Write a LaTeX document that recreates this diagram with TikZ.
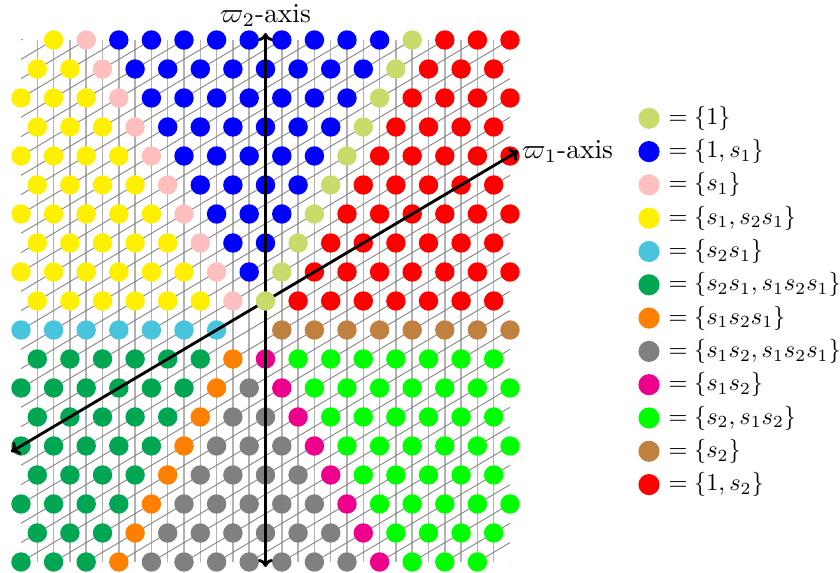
\documentclass[tikz,border=0pt]{standalone}
\usepackage{graphicx}
\usetikzlibrary{arrows.meta}
\definecolor{cOne}{RGB}{201,219,106}
\definecolor{cBlue}{RGB}{0,0,255}
\definecolor{cPink}{RGB}{255,191,191}
\definecolor{cYellow}{RGB}{255,239,0}
\definecolor{cCyan}{RGB}{72,196,220}
\definecolor{cDkGreen}{RGB}{0,166,81}
\definecolor{cOrange}{RGB}{255,128,0}
\definecolor{cGray}{RGB}{128,128,128}
\definecolor{cMagenta}{RGB}{236,0,140}
\definecolor{cGreen}{RGB}{0,255,0}
\definecolor{cBrown}{RGB}{191,128,64}
\definecolor{cRed}{RGB}{255,0,0}
\newcommand\pickcol[2]{%
  \def\col{}%
  \ifnum#2>-1
    \ifnum#1=#2 \def\col{cOne}\else
    \ifnum#1>#2 \def\col{cRed}\else
    \ifnum#1=\numexpr0-(#2)-2\relax \def\col{cPink}\else
    \ifnum#1<\numexpr0-(#2)-2\relax \def\col{cYellow}\else
    \def\col{cBlue}\fi\fi\fi\fi
  \else\ifnum#2=-1
    \ifnum#1<-1 \def\col{cCyan}\else\ifnum#1>-1 \def\col{cBrown}\fi\fi
  \else
    \ifnum#1=#2 \def\col{cOrange}\else
    \ifnum#1<#2 \def\col{cDkGreen}\else
    \ifnum#1=\numexpr0-(#2)-2\relax \def\col{cMagenta}\else
    \ifnum#1>\numexpr0-(#2)-2\relax \def\col{cGreen}\else
    \def\col{cGray}\fi\fi\fi\fi
  \fi\fi
  \ifnum#2=9 \ifnum#1=-15 \def\col{}\fi\fi
  \ifnum#2=-9 \ifnum#1=15 \def\col{}\fi\fi
  \ifnum#2=0 \ifnum#1=0 \def\col{}\fi\fi
}
\tikzset{
  latdot/.style={circle,draw=none,inner sep=0pt,minimum size=6.8pt},
  legdot/.style={circle,draw=none,inner sep=0pt,minimum size=7.4pt},
  vline/.style={gray!60,line width=0.5pt},
  dline/.style={gray,line width=0.3pt},
  axisline/.style={black,line width=1pt,
    {Computer Modern Rightarrow[length=2.8pt,width=5.2pt]}-{Computer Modern Rightarrow[length=2.8pt,width=5.2pt]}},
}
\begin{document}
\begin{tikzpicture}[x=0.35pt,y=-0.35pt]
\useasboundingbox (0,0) rectangle (840,573);
% vertical grid lines
\foreach \h in {-14,...,14}
  \draw[vline] ({265.5+16.3*\h},40) -- ({265.5+16.3*\h},562);
% diagonal grid lines
\begin{scope}
  \clip ({265.5-16.3*15},40) rectangle ({265.5+16.3*15},562);
  \foreach \c in {-42,-40,...,42}
    \draw[dline] ({265.5-16.3*15},{301-29*(-15-\c)/3}) -- ({265.5+16.3*15},{301-29*(15-\c)/3});
\end{scope}
% lattice dots
\foreach \r in {-9,...,9}{
  \foreach \h in {-15,...,15}{
    \ifodd\numexpr\h+\r\relax\else
      \pickcol{\h}{\r}%
      \ifx\col\empty\else
        \node[latdot,fill=\col] (d\h r\r) at ({265.5+16.3*\h},{301-29*\r}) {};
      \fi
    \fi
  }
}
% axes
\coordinate (w2b) at (265.5,567);
\coordinate (w2t) at (265.5,33);
\coordinate (w1a) at (11.2,451.8);
\coordinate (w1b) at (518.2,151.2);
\draw[axisline] (w2b) -- (w2t);
\draw[axisline] (w1a) -- (w1b);
\node[latdot,fill=cOne] (d0r0) at (265.5,301) {};
\node[above,inner sep=2pt] (w2lab) at (w2t) {\scalebox{0.96}{$\varpi_2$-axis}};
\node[right,inner sep=1.2pt] (w1lab) at (w1b) {\scalebox{0.96}{$\varpi_1$-axis}};
% legend
\foreach \cc/\lab [count=\i from 0] in {
  cOne/{\{1\}},
  cBlue/{\{1,s_1\}},
  cPink/{\{s_1\}},
  cYellow/{\{s_1,s_2s_1\}},
  cCyan/{\{s_2s_1\}},
  cDkGreen/{\{s_2s_1,s_1s_2s_1\}},
  cOrange/{\{s_1s_2s_1\}},
  cGray/{\{s_1s_2,s_1s_2s_1\}},
  cMagenta/{\{s_1s_2\}},
  cGreen/{\{s_2,s_1s_2\}},
  cBrown/{\{s_2\}},
  cRed/{\{1,s_2\}}}{
  \node[legdot,fill=\cc] (l\i) at (649,{118.3+33.3*\i}) {};
  \node[anchor=west,inner sep=0pt] (t\i) at (668,{118.3+33.3*\i}) {\scalebox{0.85}{$=\lab$}};
}
\end{tikzpicture}
\end{document}
